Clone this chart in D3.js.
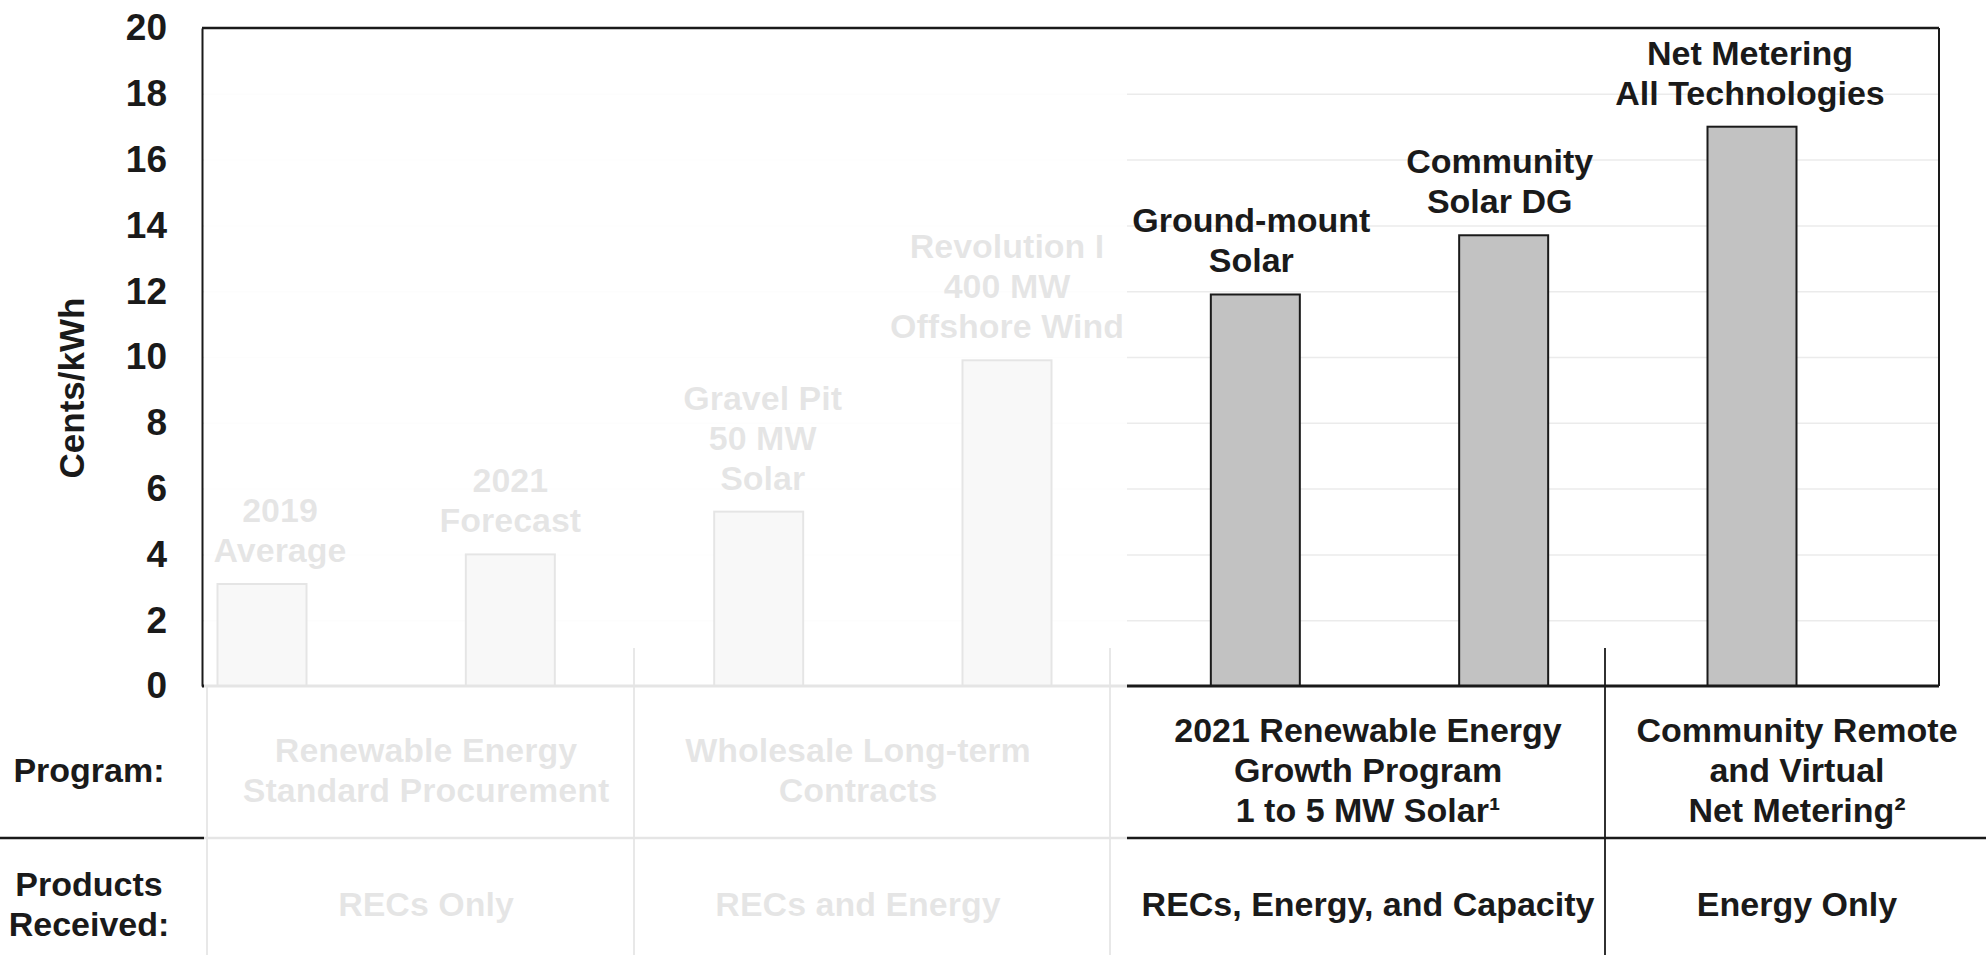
<!DOCTYPE html>
<html>
<head>
<meta charset="utf-8">
<script src="https://cdn.jsdelivr.net/npm/d3@7/dist/d3.min.js"></script>
<style>
  body { margin: 0; background: #fff; }
  svg text { font-family: "Liberation Sans", Arial, sans-serif; font-weight: bold; fill: #1a1a1a; }
</style>
</head>
<body>
<div class="chartcanvas"></div>
<script>
// chart data
const categories = ['2019 Average', '2021 Forecast', 'Gravel Pit 50 MW Solar', 'Revolution I 400 MW Offshore Wind',
  'Ground-mount Solar', 'Community Solar DG', 'Net Metering All Technologies'];
const barLabels = [['2019', 'Average'], ['2021', 'Forecast'], ['Gravel Pit', '50 MW', 'Solar'],
  ['Revolution I', '400 MW', 'Offshore Wind'], ['Ground-mount', 'Solar'], ['Community', 'Solar DG'],
  ['Net Metering', 'All Technologies']];
const centsPerKwh = [3.1, 4.0, 5.3, 9.9, 11.9, 13.7, 17.0];
const yTicks = [0, 2, 4, 6, 8, 10, 12, 14, 16, 18, 20];
const yLabel = 'Cents/kWh';

// table rows
const rowHeads = [['Program:'], ['Products', 'Received:']];
const programs = [['Renewable Energy', 'Standard Procurement'], ['Wholesale Long-term', 'Contracts'],
  ['2021 Renewable Energy', 'Growth Program', '1 to 5 MW Solar\u00b9'],
  ['Community Remote', 'and Virtual', 'Net Metering\u00b2']];
const products = ['RECs Only', 'RECs and Energy', 'RECs, Energy, and Capacity', 'Energy Only'];

// graph dimensions
const width = 1986, height = 955;
const plot = { left: 202, right: 1939, top: 28, bottom: 686 };
const barWidth = 89;
const fontSize = 34, lineGap = 40;
const labelShift = [18, 0, 4, 0, -4, -4, -2];   // small nudges of the bar captions
const colCenters = [426, 858, 1368, 1797];
const colDividers = [207, 634, 1110, 1605];
const programY = 770, productY = 904;
const fadeRight = 1127;

const svg = d3.select('.chartcanvas')
  .append('svg')
  .attr('width', width)
  .attr('height', height);

// scales
const x = d3.scalePoint().domain(categories).range([262, 1752]);
const y = d3.scaleLinear().domain([0, 20]).range([plot.bottom, plot.top]);

// gridlines
svg.append('g')
  .attr('transform', `translate(${plot.left}, 0)`)
  .call(d3.axisLeft(y).tickValues(yTicks.slice(1, -1)).tickSize(-(plot.right - plot.left)).tickFormat(''))
  .call(g => g.select('.domain').remove())
  .selectAll('line')
  .attr('stroke', '#ebebeb')
  .attr('stroke-width', 1.5);

// bars
svg.append('g')
  .selectAll('rect')
  .data(centsPerKwh)
  .enter()
  .append('rect')
  .attr('x', (d, i) => x(categories[i]) - barWidth / 2)
  .attr('y', d => y(d))
  .attr('width', barWidth)
  .attr('height', d => y(0) - y(d))
  .attr('fill', '#c2c2c2')
  .attr('stroke', '#1a1a1a')
  .attr('stroke-width', 2);

// labels above bars
const labels = svg.append('g')
  .selectAll('text')
  .data(barLabels)
  .enter()
  .append('text')
  .attr('text-anchor', 'middle')
  .attr('font-size', fontSize);

labels.selectAll('tspan')
  .data((d, i) => d.map((line, j) => ({ line, j, n: d.length, i })))
  .enter()
  .append('tspan')
  .attr('x', d => x(categories[d.i]) + labelShift[d.i])
  .attr('y', d => y(centsPerKwh[d.i]) - 22 - (d.n - 1 - d.j) * lineGap)
  .text(d => d.line);

// y axis (left frame line and tick labels)
const yAxis = d3.axisLeft(y).tickValues(yTicks).tickSize(0).tickSizeOuter(0).tickPadding(35);
svg.append('g')
  .attr('transform', `translate(${plot.left}, 0)`)
  .call(yAxis)
  .call(g => g.select('.domain').attr('stroke', '#1a1a1a').attr('stroke-width', 2))
  .selectAll('text')
  .attr('font-size', 37)
  .attr('font-family', '"Liberation Sans", Arial, sans-serif')
  .attr('fill', '#1a1a1a');

// axis title
svg.append('text')
  .attr('transform', `translate(72, 388) rotate(-90)`)
  .attr('text-anchor', 'middle')
  .attr('dy', '0.35em')
  .attr('font-size', 35)
  .text(yLabel);

// frame: top, right and baseline
const frame = svg.append('g').attr('stroke', '#1a1a1a').attr('fill', 'none');
frame.append('line').attr('x1', plot.left).attr('x2', plot.right).attr('y1', plot.top).attr('y2', plot.top).attr('stroke-width', 2.5);
frame.append('line').attr('x1', plot.right).attr('x2', plot.right).attr('y1', plot.top).attr('y2', plot.bottom).attr('stroke-width', 2);
frame.append('line').attr('x1', plot.left).attr('x2', plot.right).attr('y1', y(0)).attr('y2', y(0)).attr('stroke-width', 3);

// table lines
const table = svg.append('g').attr('stroke', '#1a1a1a');
table.append('line').attr('x1', 0).attr('x2', width).attr('y1', 838).attr('y2', 838).attr('stroke-width', 2.5);
table.selectAll('.divider')
  .data(colDividers)
  .enter()
  .append('line')
  .attr('class', 'divider')
  .attr('x1', d => d).attr('x2', d => d)
  .attr('y1', (d, i) => i === 0 ? y(0) : 648)
  .attr('y2', height)
  .attr('stroke-width', 1.8);

// table text
const addLines = (g, lines, cx, cy) => {
  const t = g.append('text').attr('text-anchor', 'middle').attr('font-size', fontSize);
  lines.forEach((line, j) => {
    t.append('tspan')
      .attr('x', cx)
      .attr('y', cy + (j - (lines.length - 1) / 2) * lineGap)
      .attr('dy', '0.35em')
      .text(line);
  });
};
const tableText = svg.append('g');
addLines(tableText, rowHeads[0], 89, programY);
addLines(tableText, rowHeads[1], 89, productY);
programs.forEach((p, i) => addLines(tableText, p, colCenters[i], programY));
products.forEach((p, i) => addLines(tableText, [p], colCenters[i], productY));

// wash out the left (older) programs
svg.append('rect')
  .attr('x', plot.left + 2)
  .attr('y', plot.top + 3)
  .attr('width', fadeRight - plot.left - 2)
  .attr('height', height - plot.top - 3)
  .attr('fill', '#fff')
  .attr('opacity', 0.89);
</script>
</body>
</html>
